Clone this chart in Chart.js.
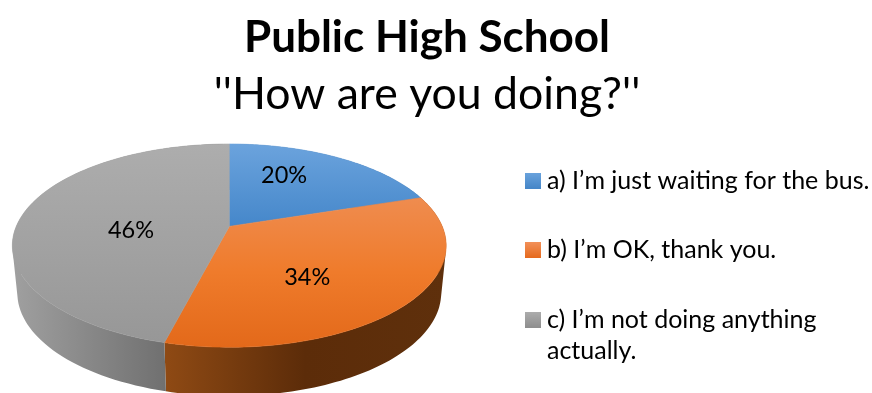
<!DOCTYPE html>
<html>
<head>
<meta charset="utf-8">
<title>Public High School</title>
<script src="https://cdn.jsdelivr.net/npm/chart.js@4/dist/chart.umd.js"></script>
<style>
    html, body { margin: 0; padding: 0; background: #fff; overflow: hidden; }
    canvas { display: block; }
</style>
</head>
<body>
<canvas id="pieChart" width="872" height="393"></canvas>
<script>
const titleText = 'Public High School';
const subtitleText = "''How are you doing?''";
const answers = [
    "a) I’m just waiting for the bus.",
    "b) I’m OK, thank you.",
    ["c) I’m not doing anything", "actually."]
];
const shares = [20, 34, 46];

const faceColors = [['#6ba3dd', '#4587ca'], ['#ef8c4f', '#ef7b2b', '#e3691a'], ['#adadad', '#979797']];
const wallColors = [['#4a7cad', '#2d5a88'], ['#8f4a14', '#5c2c09', '#5f300c'], ['#a0a0a0', '#5c5c5c']];
const swatchColors = [['#6aa3dd', '#4586c8'], ['#f29058', '#e5691c'], ['#adadad', '#8e8e8e']];

// nudges for the percent labels, they don't sit on a clean radius
const labelNudge = [[-4, 0], [5, 0], [1, 9]];

const fontFamily = 'Lato';
const swatchSize = 16;

// tilted pie: a flat circle seen in perspective from above
const tilt = { apexFromTop: 102.5, squash: 0.46, perspective: -0.189, depth: 47, floorX: 0.977, floorY: 1.015 };

function makeSwatch(colors) {
    const tile = document.createElement('canvas');
    tile.width = swatchSize;
    tile.height = swatchSize;
    const g = tile.getContext('2d');
    const grad = g.createLinearGradient(0, 0, 0, swatchSize);
    grad.addColorStop(0, colors[0]);
    grad.addColorStop(1, colors[1]);
    g.fillStyle = grad;
    g.fillRect(0, 0, swatchSize, swatchSize);
    return tile;
}

function linear(ctx, x0, y0, x1, y1, colors) {
    const grad = ctx.createLinearGradient(x0, y0, x1, y1);
    colors.forEach((c, i) => grad.addColorStop(i / (colors.length - 1), c));
    return grad;
}

function project(chart, arc, angle, scaleX = 1, scaleY = 1, drop = 0) {
    const area = chart.chartArea;
    const cx = area.left + arc.outerRadius * 1.02;
    const apexY = area.top + tilt.apexFromTop;
    const X = Math.cos(angle);
    const Y = Math.sin(angle);
    const den = 1 + tilt.perspective * Y;
    return {
        x: cx + arc.outerRadius * scaleX * X / den,
        y: apexY + drop + arc.outerRadius * tilt.squash * scaleY * Y / den
    };
}

function sampleEdge(chart, arc, scaleX, scaleY, drop) {
    const pts = [];
    const steps = 90;
    for (let i = 0; i <= steps; i++) {
        const angle = arc.startAngle + (arc.endAngle - arc.startAngle) * i / steps;
        pts.push(project(chart, arc, angle, scaleX, scaleY, drop));
    }
    return pts;
}

function addShape(ctx, pts) {
    pts.forEach((p, i) => i ? ctx.lineTo(p.x, p.y) : ctx.moveTo(p.x, p.y));
    ctx.closePath();
}

// same winding for every quad, otherwise overlapping ones cancel out in the fill
function windClockwise(quad) {
    let area = 0;
    quad.forEach((p, i) => {
        const q = quad[(i + 1) % quad.length];
        area += p.x * q.y - q.x * p.y;
    });
    return area < 0 ? quad.slice().reverse() : quad;
}

const tiltedPie = {
    id: 'tiltedPie',
    beforeDatasetsDraw(chart) {
        const { ctx, chartArea } = chart;
        const arcs = chart.getDatasetMeta(0).data;
        const radius = arcs[0].outerRadius;
        const cx = chartArea.left + radius * 1.02;
        const apexY = chartArea.top + tilt.apexFromTop;

        ctx.save();

        // side walls go down first, the top face covers what's left of them
        // all quads in one path, a single outline leaves a notch at the widest point
        arcs.forEach((arc, i) => {
            const top = sampleEdge(chart, arc);
            const bottom = sampleEdge(chart, arc, tilt.floorX, tilt.floorY, tilt.depth);
            const xs = top.map(p => p.x);
            ctx.beginPath();
            for (let j = 0; j < top.length - 1; j++) {
                addShape(ctx, windClockwise([top[j], top[j + 1], bottom[j + 1], bottom[j]]));
            }
            ctx.fillStyle = linear(ctx, Math.min(...xs), 0, Math.max(...xs), 0, wallColors[i]);
            ctx.fill();
        });

        // top face
        arcs.forEach((arc, i) => {
            const edge = sampleEdge(chart, arc);
            const ys = edge.map(p => p.y).concat(apexY);
            const fill = linear(ctx, 0, Math.min(...ys), 0, Math.max(...ys), faceColors[i]);
            ctx.beginPath();
            addShape(ctx, [{ x: cx, y: apexY }].concat(edge));
            ctx.fillStyle = fill;
            ctx.strokeStyle = fill;
            ctx.lineWidth = 0.6;
            ctx.fill();
            ctx.stroke();
        });

        // percent labels
        ctx.font = '23.5px ' + fontFamily;
        ctx.fillStyle = '#000';
        ctx.textAlign = 'center';
        ctx.textBaseline = 'middle';
        arcs.forEach((arc, i) => {
            const mid = (arc.startAngle + arc.endAngle) / 2;
            const x = cx + radius * 0.47 * Math.cos(mid) + labelNudge[i][0];
            const y = apexY + 4 + radius * 0.32 * Math.sin(mid) + labelNudge[i][1];
            ctx.fillText(shares[i] + '%', x, y);
        });

        ctx.restore();
        return false;
    },
    afterLayout(chart) {
        // the two heading lines are centred a little left of the canvas middle
        chart.boxes.filter(b => b.position === 'top').forEach(b => {
            b.left -= 13;
            b.right -= 13;
        });
        // legend text runs right up to the canvas edge
        chart.legend.left += 47;
        chart.legend.right += 47;
    }
};

new Chart(document.getElementById('pieChart'), {
    type: 'pie',
    data: {
        labels: answers,
        datasets: [{ data: shares, backgroundColor: swatchColors.map(c => c[1]) }]
    },
    plugins: [tiltedPie],
    options: {
        responsive: false,
        animation: false,
        radius: 213,
        layout: { padding: { left: 12, right: 4, top: 0, bottom: 0 } },
        plugins: {
            tooltip: { enabled: false },
            title: {
                display: true,
                text: titleText,
                color: '#000',
                font: { family: fontFamily, size: 44, weight: 'bold', lineHeight: 1.2 },
                padding: { top: 11, bottom: 0 }
            },
            subtitle: {
                display: true,
                text: subtitleText,
                color: '#000',
                font: { family: fontFamily, size: 44.6, weight: 'normal', lineHeight: 1.0 },
                padding: { top: 9, bottom: 6.5 }
            },
            legend: {
                position: 'right',
                align: 'start',
                fullSize: false,
                labels: {
                    color: '#000',
                    font: { family: fontFamily, size: 25, lineHeight: 31 / 25 },
                    usePointStyle: true,
                    pointStyleWidth: 3,
                    padding: 44.5,
                    generateLabels: () => answers.map((text, i) => ({
                        text,
                        index: i,
                        hidden: false,
                        pointStyle: makeSwatch(swatchColors[i])
                    }))
                }
            }
        }
    }
});
</script>
</body>
</html>
